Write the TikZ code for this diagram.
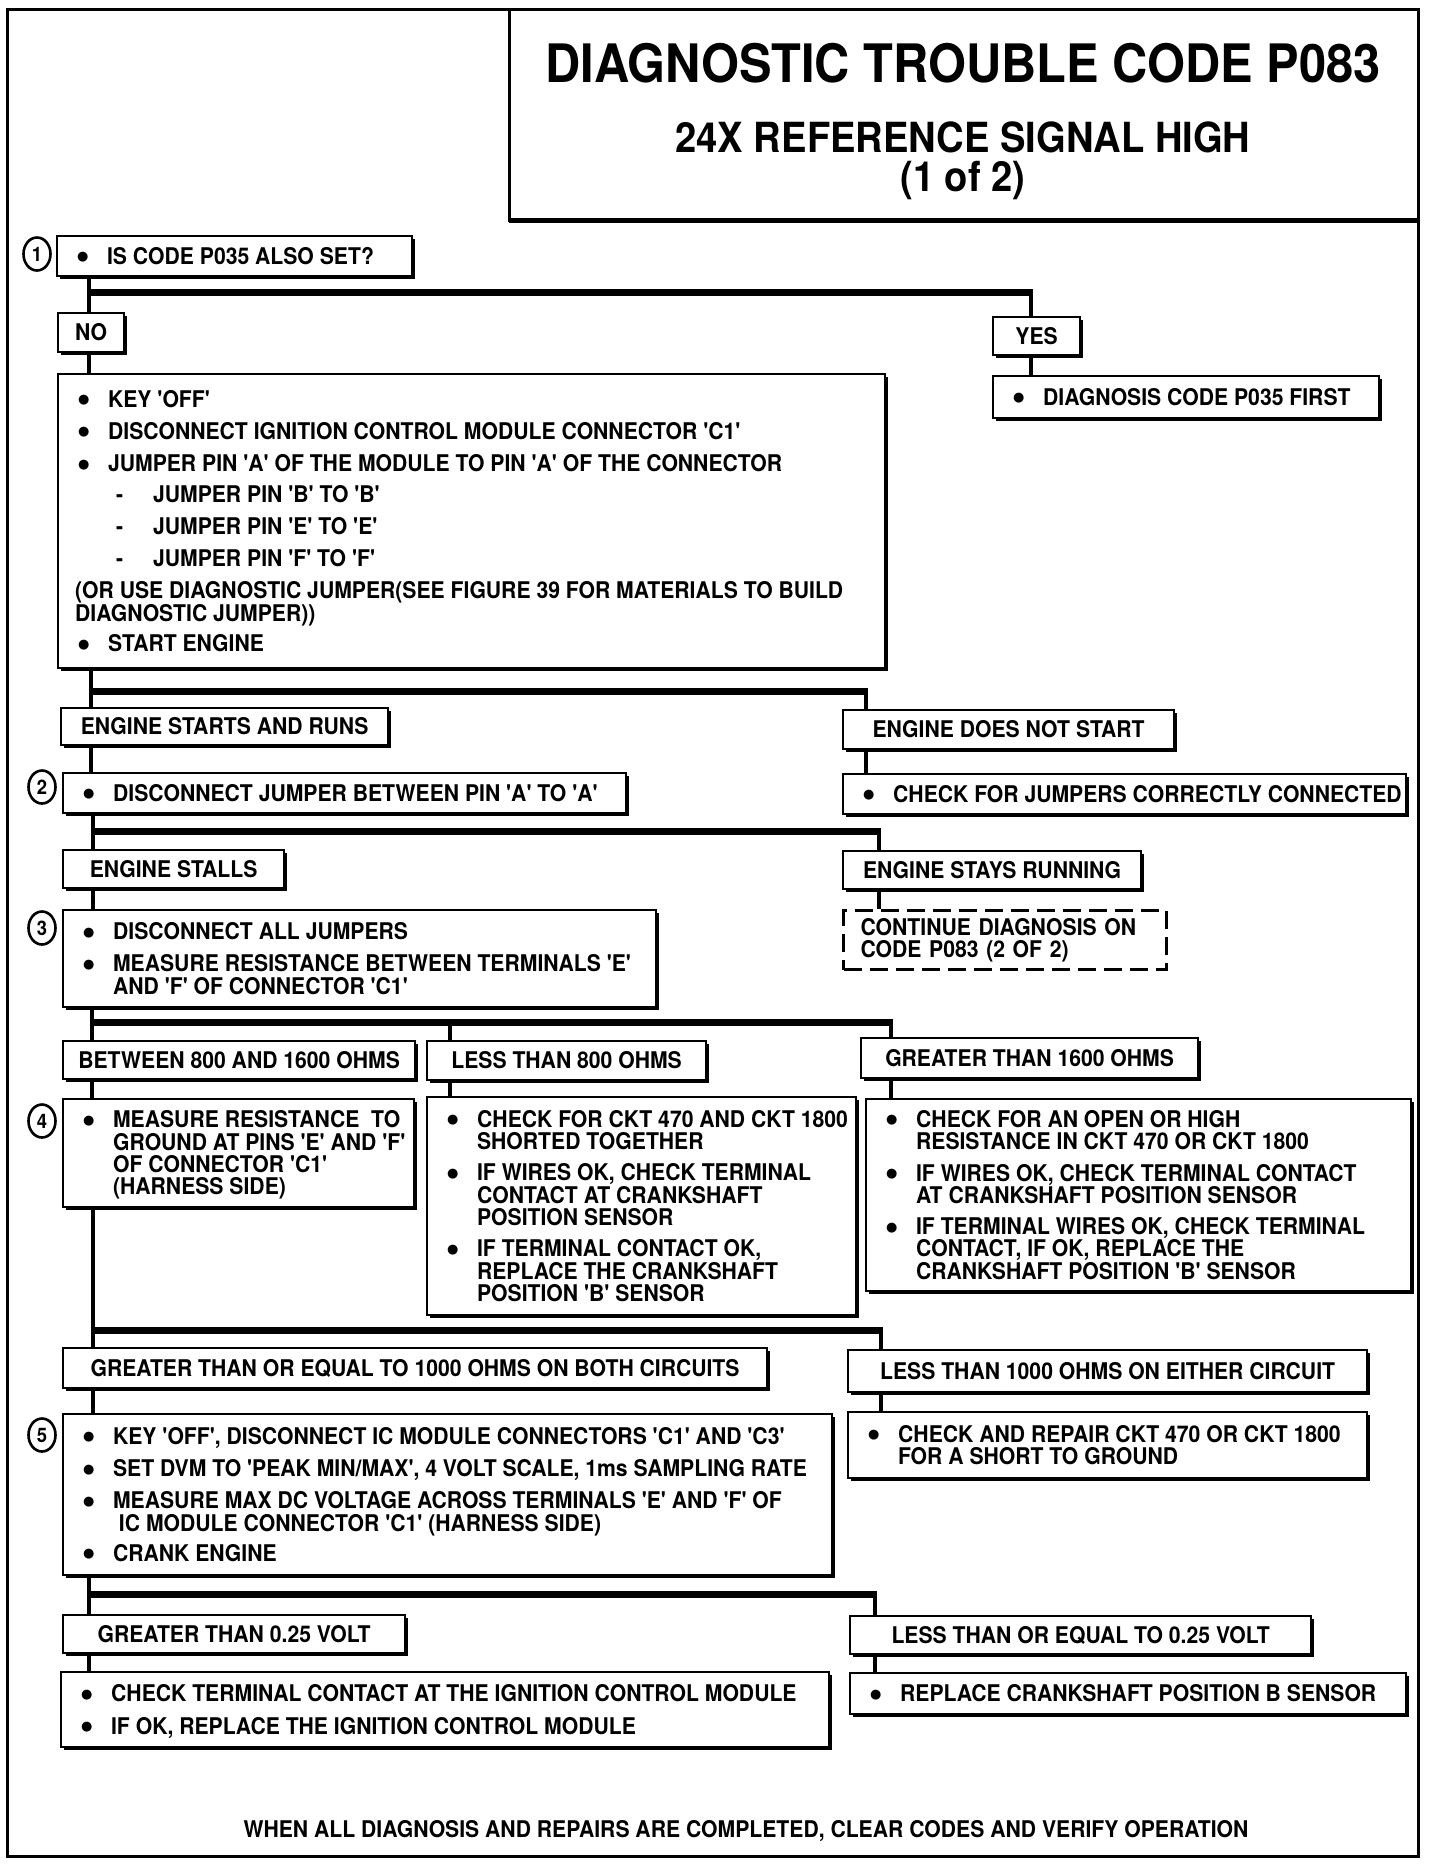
\documentclass[tikz,border=0pt]{standalone}
\usepackage{fontspec}
\newfontfamily\hv{TeX Gyre Heros}[FakeStretch=0.92]
\newfontfamily\djv{DejaVu Sans}
\usetikzlibrary{shadows,shapes.geometric}

\newcommand\bdot{\raisebox{3.5pt}{\djv\fontsize{13}{13}\selectfont ●}}
\newcommand\bu{\hspace*{6pt}\makebox[30pt][l]{\bdot}}
\newcommand\ct{\hspace*{36pt}}
\newcommand\da{\hspace*{44pt}\makebox[37pt][l]{-}}

\newcommand\TB[6]{%
  \pgfmathsetmacro\bw{#4-#2}%
  \pgfmathsetmacro\bh{#5-#3}%
  \pgfmathsetmacro\tw{#4-#2-28}%
  \node[box, minimum width=\bw pt, minimum height=\bh pt, inner xsep=14pt] (#1) at (#2,#3)
    {\makebox[\tw pt][l]{\parbox[c]{1000pt}{\raggedright\rule{0pt}{21.5pt}#6\rule[-5pt]{0pt}{5pt}}}};}
\newcommand\LB[6]{%
  \pgfmathsetmacro\bw{#4-#2}%
  \pgfmathsetmacro\bh{#5-#3}%
  \node[box, minimum width=\bw pt, minimum height=\bh pt, align=center] (#1) at (#2,#3) {#6};}

\tikzset{
  txt/.style={font=\hv\bfseries\fontsize{23}{22.3}\selectfont},
  box/.style={txt, draw, line width=2.2pt, fill=white, anchor=north west, inner ysep=0pt,
    drop shadow={shadow xshift=2.5pt, shadow yshift=-2.5pt, opacity=1, fill=black}},
  dbox/.style={txt, draw, line width=3pt, dash pattern=on 18pt off 8pt, anchor=north west,
    inner xsep=17pt, inner ysep=0pt, align=left},
  vl/.style={line width=4pt},
  bus/.style={line width=7pt},
  stepc/.style={draw, ellipse, line width=2.6pt, minimum width=27pt, minimum height=33pt,
    inner sep=0pt, font=\hv\bfseries\fontsize{20}{20}\selectfont},
}

\begin{document}
\begin{tikzpicture}[x=1pt, y=-1pt]
\useasboundingbox (0,0) rectangle (1440,1868);
\fill[white] (0,0) rectangle (1440,1868);

% frame and title
\draw[line width=3pt] (7,10) rectangle (1418,1856);
\draw[line width=3pt] (509,10) rectangle (1418,220);
\draw[line width=5pt] (509,220) -- (1418,220);
\node[font=\hv\bfseries\fontsize{53}{60}\selectfont] (t1) at (963,63) {DIAGNOSTIC TROUBLE CODE P083};
\node[font=\hv\bfseries\fontsize{41.5}{44}\selectfont] (t2) at (963,137) {24X REFERENCE SIGNAL HIGH};
\node[font=\hv\bfseries\fontsize{41.5}{44}\selectfont] (t3) at (963,181) {(1 of 2)};

% step markers
\node[stepc] (s1) at (37,254) {1};
\node[stepc] (s2) at (42,787) {2};
\node[stepc] (s3) at (42,928) {3};
\node[stepc] (s4) at (42,1121) {4};
\node[stepc] (s5) at (42,1435) {5};

% level 1
\TB{b1}{56}{235}{411}{275}{\bu IS CODE P035 ALSO SET?}
\LB{no}{57}{312}{123}{351}{NO}
\LB{yes}{992}{316}{1079}{354}{YES}
\TB{ya}{992}{375}{1378}{417}{\bu DIAGNOSIS CODE P035 FIRST}
\TB{bb}{57}{373}{884}{667}{\bu KEY 'OFF'\\[10pt]
\bu DISCONNECT IGNITION CONTROL MODULE CONNECTOR 'C1'\\[10pt]
\bu JUMPER PIN 'A' OF THE MODULE TO PIN 'A' OF THE CONNECTOR\\[8pt]
\da JUMPER PIN 'B' TO 'B'\\[10pt]
\da JUMPER PIN 'E' TO 'E'\\[10pt]
\da JUMPER PIN 'F' TO 'F'\\[10pt]
\hspace*{3pt}(OR USE DIAGNOSTIC JUMPER(SEE FIGURE 39 FOR MATERIALS TO BUILD\\
\hspace*{3pt}DIAGNOSTIC JUMPER))\\[8pt]
\bu START ENGINE}

% level 2
\LB{esr}{60}{707}{387}{744}{ENGINE STARTS AND RUNS}
\LB{ens}{842}{709}{1173}{748}{ENGINE DOES NOT START}
\TB{b2}{62}{772}{625}{812}{\bu DISCONNECT JUMPER BETWEEN PIN 'A' TO 'A'}
\TB{cj}{842}{773}{1405}{813}{\bu CHECK FOR JUMPERS CORRECTLY CONNECTED}

% level 3
\LB{es}{62}{849}{283}{887}{ENGINE STALLS}
\LB{sr}{842}{850}{1140}{888}{ENGINE STAYS RUNNING}
\node[dbox, minimum width=323pt, minimum height=59pt, text width=289pt] (cont) at (842,909)
  {CONTINUE DIAGNOSIS ON\\CODE P083 (2 OF 2)};
\TB{b3}{62}{909}{655}{1006}{\bu DISCONNECT ALL JUMPERS\\[10pt]
\bu MEASURE RESISTANCE BETWEEN TERMINALS 'E'\\
\ct AND 'F' OF CONNECTOR 'C1'}

% level 4
\LB{ra}{62}{1040}{414}{1078}{BETWEEN 800 AND 1600 OHMS}
\LB{rb}{426}{1040}{705}{1079}{LESS THAN 800 OHMS}
\LB{rc}{860}{1037}{1197}{1077}{GREATER THAN 1600 OHMS}
\TB{b4}{62}{1098}{413}{1206}{\bu MEASURE RESISTANCE\ \ TO\\
\ct GROUND AT PINS 'E' AND 'F'\\
\ct OF CONNECTOR 'C1'\\
\ct (HARNESS SIDE)}
\TB{bl}{426}{1096}{855}{1314}{\bu CHECK FOR CKT 470 AND CKT 1800\\
\ct SHORTED TOGETHER\\[9pt]
\bu IF WIRES OK, CHECK TERMINAL\\
\ct CONTACT AT CRANKSHAFT\\
\ct POSITION SENSOR\\[9pt]
\bu IF TERMINAL CONTACT OK,\\
\ct REPLACE THE CRANKSHAFT\\
\ct POSITION 'B' SENSOR}
\TB{bg}{865}{1098}{1410}{1290}{\bu CHECK FOR AN OPEN OR HIGH\\
\ct RESISTANCE IN CKT 470 OR CKT 1800\\[9pt]
\bu IF WIRES OK, CHECK TERMINAL CONTACT\\
\ct AT CRANKSHAFT POSITION SENSOR\\[9pt]
\bu IF TERMINAL WIRES OK, CHECK TERMINAL\\
\ct CONTACT, IF OK, REPLACE THE\\
\ct CRANKSHAFT POSITION 'B' SENSOR}

% level 5
\LB{ga}{62}{1347}{766}{1387}{GREATER THAN OR EQUAL TO 1000 OHMS ON BOTH CIRCUITS}
\LB{gb}{847}{1349}{1366}{1391}{LESS THAN 1000 OHMS ON EITHER CIRCUIT}
\TB{b5}{62}{1413}{831}{1574}{\bu KEY 'OFF', DISCONNECT IC MODULE CONNECTORS 'C1' AND 'C3'\\[10pt]
\bu SET DVM TO 'PEAK MIN/MAX', 4 VOLT SCALE, 1ms SAMPLING RATE\\[10pt]
\bu MEASURE MAX DC VOLTAGE ACROSS TERMINALS 'E' AND 'F' OF\\
\ct\ IC MODULE CONNECTOR 'C1' (HARNESS SIDE)\\[8pt]
\bu CRANK ENGINE}
\TB{cr}{847}{1411}{1366}{1477}{\bu CHECK AND REPAIR CKT 470 OR CKT 1800\\
\ct FOR A SHORT TO GROUND}

% level 6
\LB{va}{62}{1614}{404}{1652}{GREATER THAN 0.25 VOLT}
\LB{vb}{849}{1615}{1310}{1653}{LESS THAN OR EQUAL TO 0.25 VOLT}
\TB{bx}{60}{1671}{828}{1746}{\bu CHECK TERMINAL CONTACT AT THE IGNITION CONTROL MODULE\\[10pt]
\bu IF OK, REPLACE THE IGNITION CONTROL MODULE}
\TB{rp}{849}{1672}{1405}{1713}{\bu REPLACE CRANKSHAFT POSITION B SENSOR}

\node[txt] (ft) at (746,1831) {WHEN ALL DIAGNOSIS AND REPAIRS ARE COMPLETED, CLEAR CODES AND VERIFY OPERATION};

% connectors
\coordinate (j1l) at (89,292);  \coordinate (j1r) at (1031,292);
\draw[vl] (b1.south -| j1l) -- (no.north -| j1l);
\draw[vl] (no.south -| j1l) -- (bb.north -| j1l);
\draw[bus] ([xshift=-2pt]j1l) -- ([xshift=2pt]j1r);
\draw[vl] (j1r) -- (yes.north -| j1r);
\draw[vl] (yes.south -| j1r) -- (ya.north -| j1r);

\coordinate (j2l) at (91,691);  \coordinate (j2r) at (866,691);
\draw[vl] (bb.south -| j2l) -- (esr.north -| j2l);
\draw[vl] (esr.south -| j2l) -- (b2.north -| j2l);
\draw[bus] ([xshift=-2pt]j2l) -- ([xshift=2pt]j2r);
\draw[vl] (j2r) -- (ens.north -| j2r);
\draw[vl] (ens.south -| j2r) -- (cj.north -| j2r);

\coordinate (j3l) at (93,831);  \coordinate (j3r) at (879,831);
\draw[vl] (b2.south -| j3l) -- (es.north -| j3l);
\draw[vl] (es.south -| j3l) -- (b3.north -| j3l);
\draw[bus] ([xshift=-2pt]j3l) -- ([xshift=2pt]j3r);
\draw[vl] (j3r) -- (sr.north -| j3r);
\draw[vl] (sr.south -| j3r) -- (cont.north -| j3r);

\coordinate (j4l) at (92,1022); \coordinate (j4m) at (450,1022); \coordinate (j4r) at (891,1022);
\draw[vl] (b3.south -| j4l) -- (ra.north -| j4l);
\draw[vl] (ra.south -| j4l) -- (b4.north -| j4l);
\draw[bus] ([xshift=-2pt]j4l) -- ([xshift=2pt]j4r);
\draw[vl] (j4m) -- (rb.north -| j4m);
\draw[vl] (rb.south -| j4m) -- (bl.north -| j4m);
\draw[vl] (j4r) -- (rc.north -| j4r);
\draw[vl] (rc.south -| j4r) -- (bg.north -| j4r);

\coordinate (j5l) at (93,1330); \coordinate (j5r) at (881,1330);
\draw[vl] (b4.south -| j5l) -- (ga.north -| j5l);
\draw[vl] (ga.south -| j5l) -- (b5.north -| j5l);
\draw[bus] ([xshift=-2pt]j5l) -- ([xshift=2pt]j5r);
\draw[vl] (j5r) -- (gb.north -| j5r);
\draw[vl] (gb.south -| j5r) -- (cr.north -| j5r);

\coordinate (j6l) at (89,1594); \coordinate (j6r) at (875,1594);
\draw[vl] (b5.south -| j6l) -- (va.north -| j6l);
\draw[vl] (va.south -| j6l) -- (bx.north -| j6l);
\draw[bus] ([xshift=-2pt]j6l) -- ([xshift=2pt]j6r);
\draw[vl] (j6r) -- (vb.north -| j6r);
\draw[vl] (vb.south -| j6r) -- (rp.north -| j6r);
\end{tikzpicture}
\end{document}
